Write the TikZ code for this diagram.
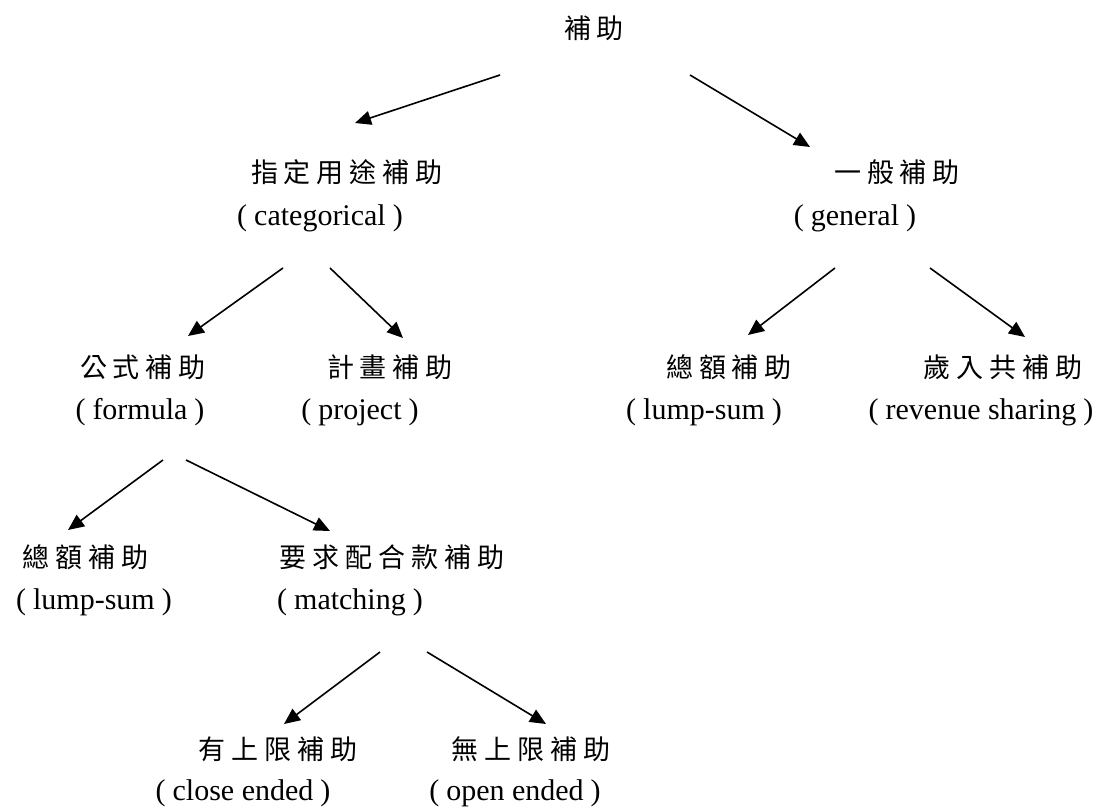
\documentclass[tikz,border=0pt]{standalone}
\usepackage{fontspec}
\setmainfont{Liberation Serif}
\newfontfamily\cjk{Noto Sans CJK TC}
\usetikzlibrary{arrows.meta}
\def\spcjk#1{\spcjki#1\relax}
\def\spcjki#1{\ifx#1\relax\unskip\else#1\hskip6pt\relax\expandafter\spcjki\fi}
\newcommand\paren[1]{(\hspace{7pt}#1\hspace{7pt})}
\tikzset{
  zh/.style={font=\cjk\fontsize{27}{32}\selectfont, inner sep=0pt},
  en/.style={font=\fontsize{30}{35}\selectfont, inner sep=0pt},
  arr/.style={line width=1.6pt, -{Triangle[length=16pt,width=14pt]}}
}
\begin{document}
\begin{tikzpicture}[x=1pt,y=-1pt]
\useasboundingbox (0,0) rectangle (1098,811);
% nodes
\node[zh] (top) at (594,28) {\spcjk{補助}};
\node[zh] (cat) at (347,172) {\spcjk{指定用途補助}};
\node[en] (catL) at (320,218) {\paren{categorical}};
\node[zh] (gen) at (897,172) {\spcjk{一般補助}};
\node[en] (genL) at (855,218) {\paren{general}};
\node[zh] (for) at (143,367) {\spcjk{公式補助}};
\node[en] (forL) at (140,412) {\paren{formula}};
\node[zh] (pro) at (390,367) {\spcjk{計畫補助}};
\node[en] (proL) at (360,412) {\paren{project}};
\node[zh] (lsR) at (729,367) {\spcjk{總額補助}};
\node[en] (lsRL) at (704,412) {\paren{lump-sum}};
\node[zh] (rev) at (1003,367) {\spcjk{歲入共補助}};
\node[en] (revL) at (981,412) {\paren{revenue sharing}};
\node[zh] (lsL) at (86,557) {\spcjk{總額補助}};
\node[en] (lsLL) at (94,602) {\paren{lump-sum}};
\node[zh] (mat) at (392,557) {\spcjk{要求配合款補助}};
\node[en] (matL) at (350,602) {\paren{matching}};
\node[zh] (clo) at (278,749) {\spcjk{有上限補助}};
\node[en] (cloL) at (243,793) {\paren{close ended}};
\node[zh] (ope) at (531,749) {\spcjk{無上限補助}};
\node[en] (opeL) at (515,793) {\paren{open ended}};
% connector ends
\coordinate (a1s) at (500,75);  \coordinate (a1e) at (355,123);
\coordinate (a2s) at (690,75);  \coordinate (a2e) at (810,147);
\coordinate (a3s) at (283,268); \coordinate (a3e) at (188,336);
\coordinate (a4s) at (330,268); \coordinate (a4e) at (403,338);
\coordinate (a5s) at (835,268); \coordinate (a5e) at (748,335);
\coordinate (a6s) at (930,268); \coordinate (a6e) at (1025,337);
\coordinate (a7s) at (163,460); \coordinate (a7e) at (68,530);
\coordinate (a8s) at (186,460); \coordinate (a8e) at (330,531);
\coordinate (a9s) at (380,652); \coordinate (a9e) at (284,724);
\coordinate (a10s) at (427,652); \coordinate (a10e) at (546,724);
\draw[arr] (a1s) -- (a1e);
\draw[arr] (a2s) -- (a2e);
\draw[arr] (a3s) -- (a3e);
\draw[arr] (a4s) -- (a4e);
\draw[arr] (a5s) -- (a5e);
\draw[arr] (a6s) -- (a6e);
\draw[arr] (a7s) -- (a7e);
\draw[arr] (a8s) -- (a8e);
\draw[arr] (a9s) -- (a9e);
\draw[arr] (a10s) -- (a10e);
\end{tikzpicture}
\end{document}
